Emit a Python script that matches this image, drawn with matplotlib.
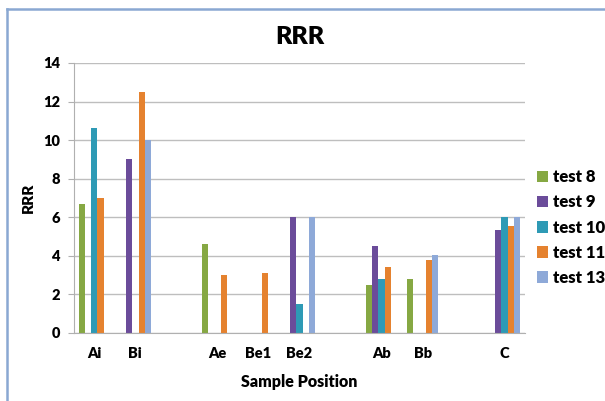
import numpy as np
import matplotlib.pyplot as plt
from matplotlib.lines import Line2D

nan = np.nan

# category slots, blanks are the empty gaps in the original chart
positions = ["Ai", "Bi", "", "Ae", "Be1", "Be2", "", "Ab", "Bb", "", "C"]

test8 = [6.67, nan, nan, 4.63, nan, nan, nan, 2.5, 2.81, nan, nan]
test9 = [nan, 9.0, nan, nan, nan, 6.0, nan, 4.52, nan, nan, 5.32]
test10 = [10.6, nan, nan, nan, nan, 1.5, nan, 2.81, nan, nan, 6.0]
test11 = [7.0, 12.5, nan, 3.0, 3.1, nan, nan, 3.42, 3.8, nan, 5.53]
test13 = [nan, 10.0, nan, nan, nan, 6.0, nan, nan, 4.02, nan, 6.0]

series = [test8, test9, test10, test11, test13]
names = ["test 8", "test 9", "test 10", "test 11", "test 13"]
colors = ["#86A843", "#6B4C9A", "#2E9AB5", "#E5822F", "#8EA9D8"]

plt.rcParams["font.family"] = ["Lato", "DejaVu Sans"]
wt = "heavy"

fig = plt.figure(figsize=(6.05, 4.01), dpi=100)
ax = fig.add_axes([0.122, 0.17, 0.746, 0.673])

x = np.arange(len(positions))
w = 0.154
for i, (vals, name, c) in enumerate(zip(series, names, colors)):
    ax.bar(x + (i - 2) * w, vals, width=w, color=c, label=name, linewidth=0)

ax.set_xlim(-0.5, len(positions) - 0.5)
ax.set_ylim(0, 14)
ax.set_yticks(range(0, 15, 2))
ax.set_xticks(x)
ax.set_xticklabels(positions, fontweight=wt, fontsize=10.5)
for lbl in ax.get_yticklabels():
    lbl.set_fontweight(wt)
    lbl.set_fontsize(10.5)
ax.tick_params(axis="x", length=0, pad=10)
ax.tick_params(axis="y", length=4, color="#B0B0B0", pad=6)

ax.grid(axis="y", color="#BEBEBE", linewidth=1)
ax.set_axisbelow(True)
for s in ["top", "right"]:
    ax.spines[s].set_visible(False)
ax.spines["left"].set_color("#B0B0B0")
ax.spines["bottom"].set_color("#B0B0B0")

ax.set_title("RRR", fontsize=18, fontweight=wt, pad=14)
ax.set_ylabel("RRR", fontsize=11, fontweight=wt, labelpad=6)
ax.set_xlabel("Sample Position", fontsize=11.5, fontweight=wt, labelpad=10)

ax.legend(loc="center left", bbox_to_anchor=(1.0, 0.39), frameon=False,
          prop={"weight": wt, "size": 12}, handlelength=0.7,
          handleheight=0.7, handletextpad=0.3, labelspacing=0.55,
          borderaxespad=0.3)

# blue frame around the chart area (top and left edges visible)
fig.add_artist(Line2D([0.011, 1.0], [0.978, 0.978], color="#8AA8D2", linewidth=1.8,
                      transform=fig.transFigure))
fig.add_artist(Line2D([0.011, 0.011], [0.0, 0.978], color="#8AA8D2", linewidth=1.8,
                      transform=fig.transFigure))

fig.savefig("out.png", dpi=100)
